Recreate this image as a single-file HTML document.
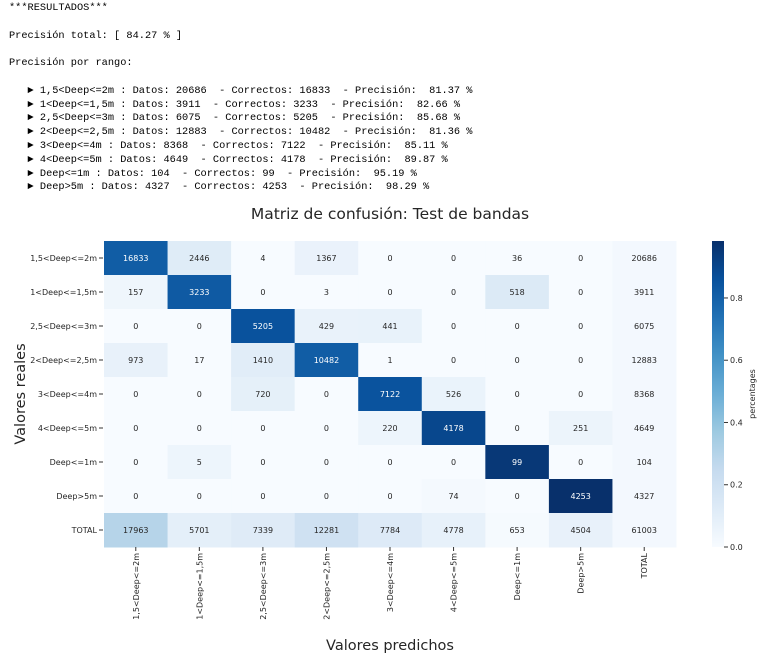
<!DOCTYPE html>
<html><head><meta charset="utf-8"><style>
body{margin:0;background:#fff;width:778px;height:661px;overflow:hidden}
#txt{position:absolute;left:9px;top:2px;font:10.3px "Liberation Mono","DejaVu Sans Mono",monospace;color:#000;white-space:pre;line-height:13.8px}
svg{position:absolute;left:0;top:0}
</style></head><body>
<div id="txt">***RESULTADOS***

Precisión total: [ 84.27 % ]

Precisión por rango:

   ► 1,5&lt;Deep&lt;=2m : Datos: 20686  - Correctos: 16833  - Precisión:  81.37 %
   ► 1&lt;Deep&lt;=1,5m : Datos: 3911  - Correctos: 3233  - Precisión:  82.66 %
   ► 2,5&lt;Deep&lt;=3m : Datos: 6075  - Correctos: 5205  - Precisión:  85.68 %
   ► 2&lt;Deep&lt;=2,5m : Datos: 12883  - Correctos: 10482  - Precisión:  81.36 %
   ► 3&lt;Deep&lt;=4m : Datos: 8368  - Correctos: 7122  - Precisión:  85.11 %
   ► 4&lt;Deep&lt;=5m : Datos: 4649  - Correctos: 4178  - Precisión:  89.87 %
   ► Deep&lt;=1m : Datos: 104  - Correctos: 99  - Precisión:  95.19 %
   ► Deep&gt;5m : Datos: 4327  - Correctos: 4253  - Precisión:  98.29 %</div>
<svg id="chart" width="778" height="661"></svg>
<script>
const rowLabels=["1,5<Deep<=2m","1<Deep<=1,5m","2,5<Deep<=3m","2<Deep<=2,5m","3<Deep<=4m","4<Deep<=5m","Deep<=1m","Deep>5m","TOTAL"];
const colLabels=["1,5<Deep<=2m","1<Deep<=1,5m","2,5<Deep<=3m","2<Deep<=2,5m","3<Deep<=4m","4<Deep<=5m","Deep<=1m","Deep>5m","TOTAL"];
const row0=[16833,2446,4,1367,0,0,36,0,20686];
const row1=[157,3233,0,3,0,0,518,0,3911];
const row2=[0,0,5205,429,441,0,0,0,6075];
const row3=[973,17,1410,10482,1,0,0,0,12883];
const row4=[0,0,720,0,7122,526,0,0,8368];
const row5=[0,0,0,0,220,4178,0,251,4649];
const row6=[0,5,0,0,0,0,99,0,104];
const row7=[0,0,0,0,0,74,0,4253,4327];
const rowTotal=[17963,5701,7339,12281,7784,4778,653,4504,61003];
const cbTicks=[0,0.2,0.4,0.6,0.8];
const matrix=[row0,row1,row2,row3,row4,row5,row6,row7,rowTotal];
const NS="http://www.w3.org/2000/svg";
const svg=document.getElementById('chart');
const X0=104,X1=676,Y0=241,Y1=547,VMAX=0.983;
const cw=(X1-X0)/colLabels.length, rh=(Y1-Y0)/rowLabels.length;
const xc=i=>X0+i*cw, yr=j=>Y0+j*rh;
const stops=["#f7fbff","#deebf7","#c6dbef","#9ecae1","#6baed6","#4292c6","#2171b5","#08519c","#08306b"];
function hex(c){return [1,3,5].map(i=>parseInt(c.substr(i,2),16));}
function blues(t){t=Math.max(0,Math.min(1,t));const p=t*8,i=Math.min(7,Math.floor(p)),f=p-i;const a=hex(stops[i]),b=hex(stops[i+1]);return "rgb("+a.map((v,k)=>Math.round(v+(b[k]-v)*f)).join(",")+")";}
function el(tag,attrs,txt){const e=document.createElementNS(NS,tag);for(const k in attrs)e.setAttribute(k,attrs[k]);if(txt!==undefined)e.textContent=txt;svg.appendChild(e);return e;}
const F='"DejaVu Sans","Liberation Sans",sans-serif';
const FS='8';
matrix.forEach((row,j)=>{
  row.forEach((v,i)=>{
    const isTotCol=i===row.length-1;
    const p=isTotCol?0.02:v/row[row.length-1];
    const r=el('rect',{x:xc(i),y:yr(j),width:cw+0.5,height:rh+0.5,fill:blues(p/VMAX)});
    
    
    const t=el('text',{x:xc(i)+cw/2,y:yr(j)+rh/2+3,'text-anchor':'middle','font-size':FS,'font-family':F,fill:p>0.5?'#fff':'#262626'},String(v));
    
    
  });
});
rowLabels.forEach((l,j)=>{
  const t=el('text',{x:97,y:yr(j)+rh/2+3,'text-anchor':'end','font-size':FS,'font-family':F,fill:'#262626'},l);
  
  
  el('line',{x1:99,x2:103,y1:yr(j)+rh/2,y2:yr(j)+rh/2,stroke:'#333','stroke-width':1});
});
colLabels.forEach((l,i)=>{
  const cx=xc(i)+cw/2+3;
  el('line',{x1:xc(i)+cw/2,x2:xc(i)+cw/2,y1:547,y2:551,stroke:'#333','stroke-width':1});
  const t=el('text',{x:cx,y:553,'text-anchor':'end','font-size':FS,'font-family':F,fill:'#262626',transform:'rotate(-90 '+cx+' 553)'},l);
  
  
});
const gr=el('defs',{});
const lg=document.createElementNS(NS,'linearGradient');lg.setAttribute('id','cb');lg.setAttribute('x1','0');lg.setAttribute('y1','1');lg.setAttribute('x2','0');lg.setAttribute('y2','0');
stops.forEach((s,k)=>{const st=document.createElementNS(NS,'stop');st.setAttribute('offset',k/8);st.setAttribute('stop-color',s);lg.appendChild(st);});
gr.appendChild(lg);
const cb=el('rect',{x:712,y:Y0,width:12,height:Y1-Y0,fill:'url(#cb)'});


const cy=v=>Y1-v/VMAX*(Y1-Y0);
cbTicks.forEach(v=>{
  el('line',{x1:724,x2:728,y1:cy(v),y2:cy(v),stroke:'#333','stroke-width':1});
  const t=el('text',{x:730,y:cy(v)+3,'font-size':FS,'font-family':F,fill:'#262626'},v.toFixed(1));
  
  
});
let t=el('text',{x:755,y:394,'text-anchor':'middle','font-size':FS,'font-family':F,fill:'#262626',transform:'rotate(-90 755 394)'},'percentages');

t=el('text',{x:390,y:219,'text-anchor':'middle','font-size':'15.5','font-family':F,fill:'#262626'},'Matriz de confusión: Test de bandas');

t=el('text',{x:25,y:394,'text-anchor':'middle','font-size':'14.5','font-family':F,fill:'#262626',transform:'rotate(-90 25 394)'},'Valores reales');

t=el('text',{x:390,y:650,'text-anchor':'middle','font-size':'14.5','font-family':F,fill:'#262626'},'Valores predichos');

</script>
</body></html>
